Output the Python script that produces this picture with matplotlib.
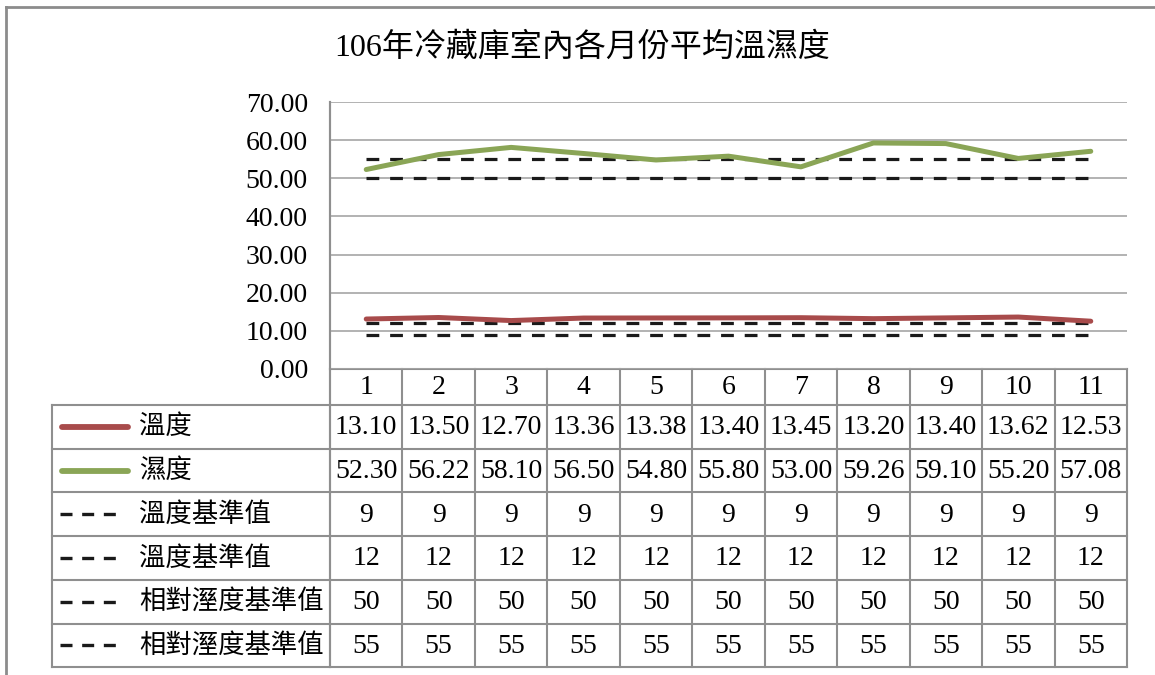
import matplotlib.pyplot as plt
import numpy as np

# 月份與各序列數值
months = ["1", "2", "3", "4", "5", "6", "7", "8", "9", "10", "11"]
temp = [13.10, 13.50, 12.70, 13.36, 13.38, 13.40, 13.45, 13.20, 13.40, 13.62, 12.53]
humid = [52.30, 56.22, 58.10, 56.50, 54.80, 55.80, 53.00, 59.26, 59.10, 55.20, 57.08]
temp_low = [9] * 11
temp_high = [12] * 11
humid_low = [50] * 11
humid_high = [55] * 11

series_names = ["溫度", "濕度", "溫度基準值", "溫度基準值", "相對溼度基準值", "相對溼度基準值"]
series_vals = [temp, humid, temp_low, temp_high, humid_low, humid_high]
series_fmt = ["{:.2f}", "{:.2f}", "{:d}", "{:d}", "{:d}", "{:d}"]

title = "106年冷藏庫室內各月份平均溫濕度"

RED = "#a84b4b"
GREEN = "#8aa556"
GRID = "#a6a6a6"
EDGE = "#8f8f8f"
NUM_FONT = ["Liberation Serif", "Noto Sans CJK TC"]
CJK_FONT = ["Noto Sans CJK TC", "DejaVu Sans"]

W, H = 1155, 675
fig = plt.figure(figsize=(W / 100, H / 100), dpi=100)

# pixel layout of plot area and data table
px_left, px_right = 330, 1127
px_top, px_bottom = 102, 369
row_h = 43.7
tbl_left = 52
n = len(months)
col_w = (px_right - px_left) / n

# background axes in pixel coordinates for frame + table
bg = fig.add_axes([0, 0, 1, 1])
bg.set_xlim(0, W)
bg.set_ylim(H, 0)
bg.axis("off")

# outer chart frame
bg.plot([6, 6], [7, H], color="#8c8c8c", lw=2)
bg.plot([6, W], [7, 7], color="#8c8c8c", lw=2)

bg.text(582, 48, title, ha="center", va="center", fontsize=23,
        family=NUM_FONT)

# line chart
ax = fig.add_axes([px_left / W, 1 - px_bottom / H,
                   (px_right - px_left) / W, (px_bottom - px_top) / H])
x = np.arange(n)
for ref in [humid_high, humid_low, temp_high, temp_low]:
    ax.plot(x, ref, color="#1a1a1a", lw=2.3, dashes=(4, 3.4), zorder=3)
ax.plot(x, temp, color=RED, lw=3.6, zorder=4, solid_capstyle="round")
ax.plot(x, humid, color=GREEN, lw=3.6, zorder=4, solid_capstyle="round")

ax.set_xlim(-0.5, n - 0.5)
ax.set_ylim(0, 70)
ax.set_yticks(np.arange(0, 71, 10))
ax.set_yticklabels(["{:.2f}".format(v) for v in np.arange(0, 71, 10)],
                   family=NUM_FONT, fontsize=20)
ax.set_xticks([])
ax.tick_params(axis="y", length=0, pad=16)
ax.yaxis.grid(True, color=GRID, lw=1.2)
ax.set_axisbelow(True)
for s in ["top", "right", "bottom"]:
    ax.spines[s].set_visible(False)
ax.spines["left"].set_color(EDGE)
ax.spines["left"].set_linewidth(1.5)
ax.patch.set_alpha(0)

# data table
cat_top = px_bottom
cat_bot = px_bottom + 36
tbl_bot = cat_bot + row_h * len(series_names)

bg.plot([px_left, px_right], [cat_top, cat_top], color=EDGE, lw=1.5)
for i in range(n + 1):
    xe = px_left + i * col_w
    bg.plot([xe, xe], [cat_top, tbl_bot], color=EDGE, lw=1.5)
bg.plot([px_left, px_left], [px_top, tbl_bot], color=EDGE, lw=1.5)
bg.plot([tbl_left, tbl_left], [cat_bot, tbl_bot], color=EDGE, lw=1.5)
for r in range(len(series_names) + 1):
    yr = cat_bot + r * row_h
    bg.plot([tbl_left, px_right], [yr, yr], color=EDGE, lw=1.5)

for i, m in enumerate(months):
    bg.text(px_left + (i + 0.5) * col_w, (cat_top + cat_bot) / 2 + 1, m,
            ha="center", va="center", fontsize=20, family=NUM_FONT)

for r, (name, vals, fmt) in enumerate(zip(series_names, series_vals, series_fmt)):
    yc = cat_bot + (r + 0.5) * row_h
    if r == 0:
        bg.plot([62, 128], [yc, yc], color=RED, lw=4.2, solid_capstyle="round")
    elif r == 1:
        bg.plot([62, 128], [yc, yc], color=GREEN, lw=4.2, solid_capstyle="round")
    else:
        bg.plot([60, 124], [yc, yc], color="#1a1a1a", lw=2.4, dashes=(3.6, 2.9))
    bg.text(139, yc, name, ha="left", va="center", fontsize=19, family=CJK_FONT)
    for i, v in enumerate(vals):
        bg.text(px_left + (i + 0.5) * col_w, yc + 1, fmt.format(v),
                ha="center", va="center", fontsize=20, family=NUM_FONT)

fig.savefig("out.png", dpi=100)
